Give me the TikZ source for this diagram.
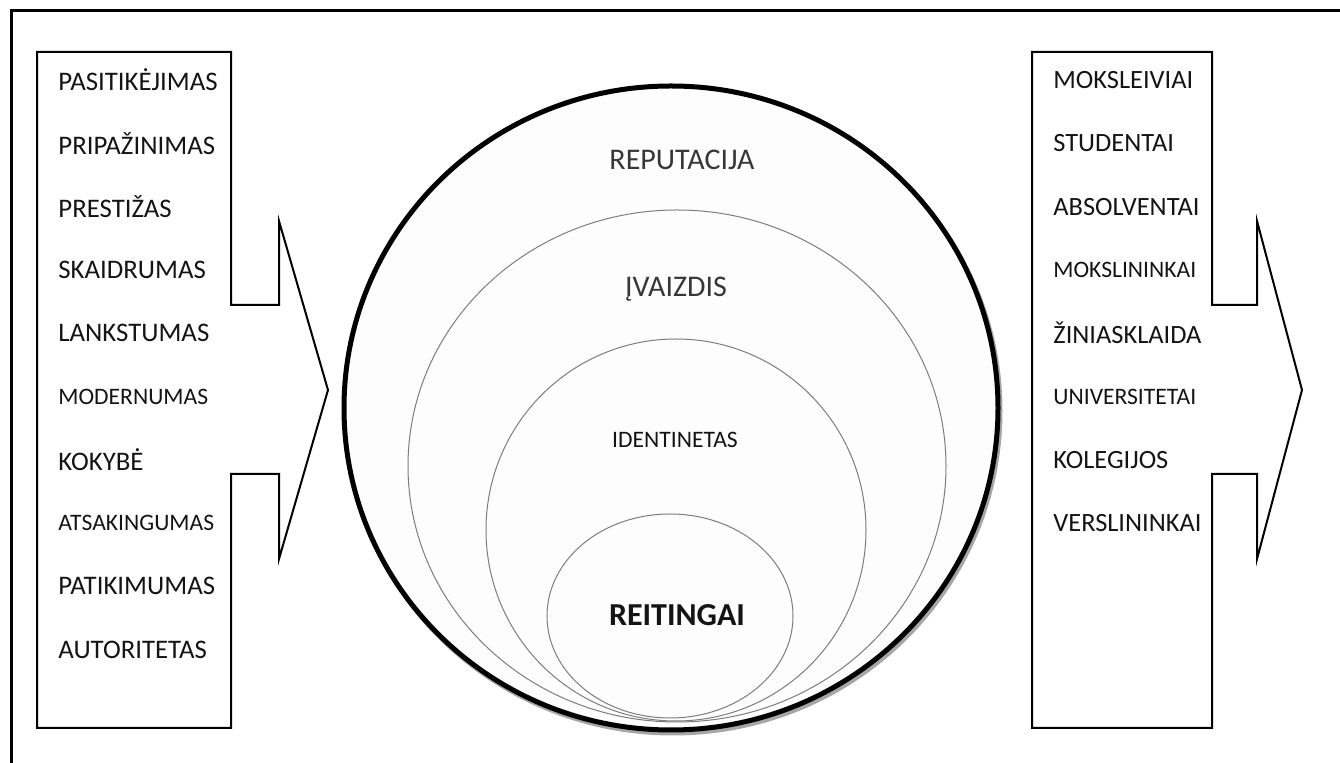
\documentclass[tikz,border=0pt]{standalone}
\usepackage{fontspec}
\setmainfont{Carlito}
\usetikzlibrary{positioning}
\definecolor{ink}{RGB}{20,20,20}
\definecolor{ringgray}{RGB}{125,125,125}
\definecolor{pale}{RGB}{253,253,253}
\tikzset{
  frame/.style={draw=black,line width=1.5pt},
  panel/.style={draw=black,line width=1pt,line join=miter},
  item/.style={anchor=west,inner sep=0pt,text=ink,font=\fontsize{#1}{#1}\selectfont},
  item/.default=13.4,
  ring/.style={draw=ringgray,line width=0.5pt,fill=pale},
  tag/.style={inner sep=0pt,text=#1,font=\fontsize{15}{17}\selectfont},
  tag/.default=ink!85,
}
\begin{document}
\begin{tikzpicture}[x=0.5pt,y=-0.5pt]
  \useasboundingbox (0,0) rectangle (1340,763);
  % frame
  \draw[frame] (11,763) -- (11,11) -- (1340,11);
  % side panels with arrows
  \draw[panel] (37,52) -- (231,52) -- (231,305) -- (279,305) -- (279,221) -- (328,390)
    -- (279,559) -- (279,474) -- (231,474) -- (231,728) -- (37,728) -- cycle;
  \draw[panel] (1032,52) -- (1212,52) -- (1212,305) -- (1257,305) -- (1257,221) -- (1302,390)
    -- (1257,559) -- (1257,474) -- (1212,474) -- (1212,728) -- (1032,728) -- cycle;
  % nested circles
  \draw[black!35,line width=2.5pt] (673,411) ellipse [x radius=327,y radius=322];
  \draw[line width=2.5pt,fill=pale] (671,408) ellipse [x radius=327,y radius=322];
  \draw[ring] (677,466) ellipse [x radius=269,y radius=256];
  \draw[ring] (676,530) ellipse [x radius=190,y radius=191];
  \draw[ring] (670,616) ellipse [x radius=123,y radius=102];
  \node[tag] (rep) at (682,160) {REPUTACIJA};
  \node[tag] (ivz) at (676,289) {ĮVAIZDIS};
  \node[tag=ink,font=\fontsize{11.8}{13}\selectfont] (idn) at (675,440) {IDENTINETAS};
  \node[tag=ink,font=\fontsize{16}{18}\selectfont\bfseries] (rtg) at (677,615) {REITINGAI};
  % left list
  \foreach \i/\t/\s in {0/PASITIKĖJIMAS/13.4,1/PRIPAŽINIMAS/13.4,2/PRESTIŽAS/13.4,3/SKAIDRUMAS/13.4,
      4/LANKSTUMAS/13.4,5/MODERNUMAS/11.8,6/KOKYBĖ/13.4,7/ATSAKINGUMAS/11.8,8/PATIKIMUMAS/13.4,9/AUTORITETAS/13.4}
    \node[item=\s] (l\i) at (58,80+\i*63.3) {\t};
  % right list
  \foreach \i/\t/\s in {0/MOKSLEIVIAI/13.2,1/STUDENTAI/13.2,2/ABSOLVENTAI/13.2,3/MOKSLININKAI/11.8,
      4/ŽINIASKLAIDA/13.2,5/UNIVERSITETAI/11.8,6/KOLEGIJOS/13.2,7/VERSLININKAI/13.2}
    \node[item=\s] (r\i) at (1053,80+\i*63.3) {\t};
\end{tikzpicture}
\end{document}
